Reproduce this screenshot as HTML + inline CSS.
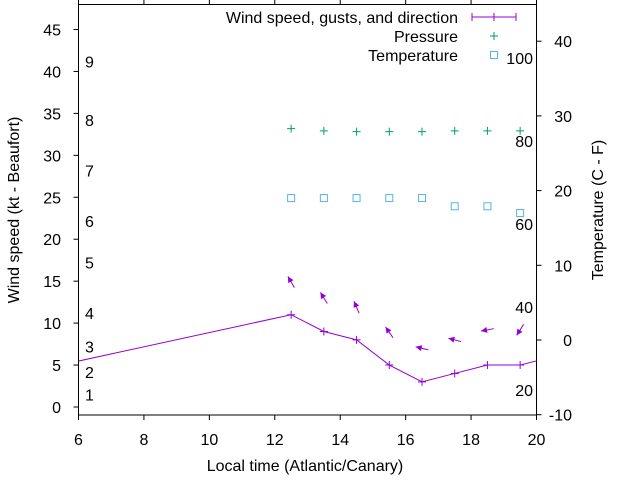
<!DOCTYPE html>
<html><head><meta charset="utf-8"><style>
html,body{margin:0;padding:0;background:#fff;}
svg{display:block;font-family:"Liberation Sans",sans-serif;}
</style></head><body>
<svg id="chart" width="640" height="480" viewBox="0 0 640 480">
<defs><clipPath id="pc"><rect x="78.5" y="4.5" width="458" height="410.5"/></clipPath></defs>
<g id="axes"></g>
<g id="marks" clip-path="url(#pc)"></g>
<g id="labels"></g>
</svg>
<script>
const times=[4.5,12.5,13.5,14.5,15.5,16.5,17.5,18.5,19.5,20.5];
const windKt=[4.2,11,9,8,5,3,4,5,5,6];
const markTimes=[12.5,13.5,14.5,15.5,16.5,17.5,18.5,19.5];
const arrowKt=[14.9,13.0,11.9,8.9,7.0,8.0,9.2,9.2];
const arrowAngle=[120,122,113,125,166,165,190,238];
const pressure=[28.3,28.0,27.9,27.9,27.9,28.0,28.0,28.0];
const temperature=[19.0,19.0,19.0,19.0,19.0,17.9,17.9,17.0];
const xTicks=[6,8,10,12,14,16,18,20];
const yTicks=[0,5,10,15,20,25,30,35,40,45];
const y2Ticks=[-10,0,10,20,30,40];
const beaufortLabels=["1","2","3","4","5","6","7","8","9"];
const beaufortKt=[1.5,4.2,7.2,11.2,17.2,22.2,28.2,34.2,41.2];
const fahrenheit=[20,40,60,80,100];

const L=78.5,R=536.5,T=4.5,B=415;
const X=t=>L+(t-6)*(R-L)/14;
const Y=v=>407-v*(407-29.5)/45;
const Y2=c=>340-c*7.47;
const NS="http://www.w3.org/2000/svg";
function mk(parent,tag,attrs,text){const e=document.createElementNS(NS,tag);for(const k in attrs)e.setAttribute(k,attrs[k]);if(text!==undefined)e.textContent=text;document.getElementById(parent).appendChild(e);return e;}
const P="#9400d3",G="#009e73",Bl="#56b4e9";

// frame
let e=mk("axes","rect",{x:L,y:T,width:R-L,height:B-T,fill:"none",stroke:"#000","stroke-width":1});


xTicks.forEach(t=>{
 e=mk("axes","path",{d:`M${X(t)},${B}v5M${X(t)},${T}v-5`,stroke:"#000"});
 
 
 e=mk("labels","text",{x:X(t),y:B+30,"text-anchor":"middle","font-size":16},t);
 
 
});
yTicks.forEach(v=>{
 e=mk("axes","path",{d:`M${L-5},${Y(v)}h5`,stroke:"#000"});
 
 
 e=mk("labels","text",{x:61,y:Y(v)+6,"text-anchor":"end","font-size":16},v);
 
 
});
y2Ticks.forEach(v=>{
 e=mk("axes","path",{d:`M${R},${Y2(v)}h5`,stroke:"#000"});
 
 
 e=mk("labels","text",{x:572,y:Y2(v)+6,"text-anchor":"end","font-size":16},v);
 
 
});
beaufortLabels.forEach((s,i)=>{
 e=mk("labels","text",{x:85,y:Y(beaufortKt[i])+6,"font-size":16},s);
 
 
});
fahrenheit.forEach(f=>{
 e=mk("labels","text",{x:533,y:Y2((f-32)/1.8)+6,"text-anchor":"end","font-size":16},f);
 
 
});
e=mk("labels","text",{x:305,y:471,"text-anchor":"middle","font-size":16},"Local time (Atlantic/Canary)");


e=mk("labels","text",{x:19,y:210,"text-anchor":"middle","font-size":16,transform:"rotate(-90 19 210)"},"Wind speed (kt - Beaufort)");


e=mk("labels","text",{x:603,y:210,"text-anchor":"middle","font-size":16,transform:"rotate(-90 603 210)"},"Temperature (C - F)");



// wind line
e=mk("marks","polyline",{points:times.map((t,i)=>X(t)+","+Y(windKt[i])).join(" "),fill:"none",stroke:P,"stroke-width":1});


times.forEach((t,i)=>{
 e=mk("marks","path",{d:`M${X(t)-4},${Y(windKt[i])}h8M${X(t)},${Y(windKt[i])-4}v8`,stroke:P});
 
 
});
// arrows
markTimes.forEach((t,i)=>{
 const a=arrowAngle[i]*Math.PI/180,cx=X(t),cy=Y(arrowKt[i]),h=6.5;
 const dx=Math.cos(a),dy=-Math.sin(a);
 const hx=cx+dx*h,hy=cy+dy*h,tx=cx-dx*h,ty=cy-dy*h;
 const px=-dy,py=dx;
 e=mk("marks","path",{d:`M${tx},${ty}L${hx},${hy}`,stroke:P,"stroke-width":1});
 
 
 e=mk("marks","polygon",{points:`${hx},${hy} ${hx-dx*6+px*3},${hy-dy*6+py*3} ${hx-dx*6-px*3},${hy-dy*6-py*3}`,fill:P});
 
 
});
// pressure
markTimes.forEach((t,i)=>{
 const x=X(t),y=Y2(pressure[i]);
 e=mk("marks","path",{d:`M${x-4},${y}h8M${x},${y-4}v8`,stroke:G});
 
 
});
// temperature
markTimes.forEach((t,i)=>{
 const x=X(t),y=Y2(temperature[i]);
 e=mk("marks","rect",{x:x-3.5,y:y-3.5,width:7,height:7,fill:"none",stroke:Bl});
 
 
});
// legend
const leg=[["Wind speed, gusts, and direction",17],["Pressure",36],["Temperature",55]];
leg.forEach(([s,y])=>{
 e=mk("labels","text",{x:458,y:y+6,"text-anchor":"end","font-size":16},s);
 
 
});
e=mk("labels","path",{d:"M472,17h44M472,13v8M494,13v8M516,13v8",stroke:P});


e=mk("labels","path",{d:"M490,36h8M494,32v8",stroke:G});


e=mk("labels","rect",{x:490.5,y:51.5,width:7,height:7,fill:"none",stroke:Bl});


</script>
</body></html>
